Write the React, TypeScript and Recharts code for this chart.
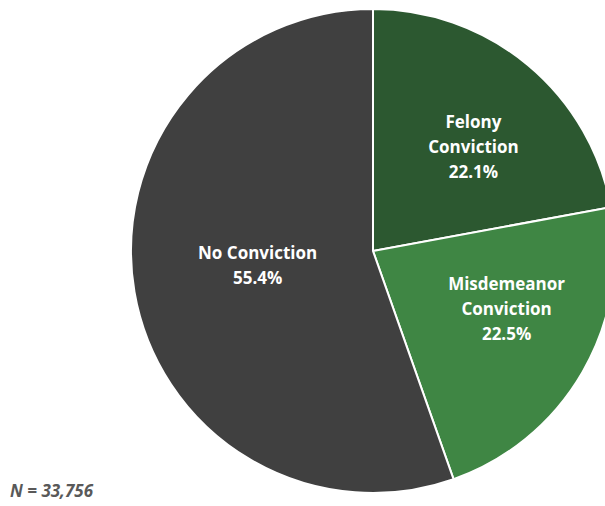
import { PieChart, Pie, Cell } from "recharts";

const categories = ["Felony\nConviction", "Misdemeanor\nConviction", "No Conviction"];
const shares = [22.1, 22.5, 55.4];
const colors = ["#2C5830", "#3F8644", "#404040"];
const sampleNote = "N = 33,756";

const data = categories.map((name, i) => ({ name, value: shares[i] }));

// Excel's best-fit places each label a bit differently; nudge per slice
const labelRadius = [0.6, 0.6, 0.48];
const labelAngleShift = [-4, 7, -3];

const RADIAN = Math.PI / 180;
const FONT = "'Open Sans', Lato, sans-serif";

function renderLabel(props: any) {
  const { cx, cy, midAngle, outerRadius, index } = props;
  const angle = (midAngle + labelAngleShift[index]) * RADIAN;
  const r = outerRadius * labelRadius[index];
  const x = cx + r * Math.cos(angle);
  const y = cy - r * Math.sin(angle);
  const lines = [...categories[index].split("\n"), `${shares[index].toFixed(1)}%`];
  const startY = y - ((lines.length - 1) * 25) / 2;
  return (
    <text
      x={x}
      y={startY}
      fill="#ffffff"
      textAnchor="middle"
      dominantBaseline="central"
      style={{ fontFamily: FONT, fontWeight: 700, fontSize: 17 }}
    >
      {lines.map((line, i) => (
        <tspan key={i} x={x} dy={i === 0 ? 0 : 25}>
          {line}
        </tspan>
      ))}
    </text>
  );
}

export default function App() {
  return (
    <div style={{ position: "absolute", left: 0, top: 0, width: 605, height: 506, background: "#fff" }}>
      <PieChart width={605} height={506} margin={{ top: 0, right: 0, bottom: 0, left: 0 }}>
        <Pie
          data={data}
          dataKey="value"
          cx={373}
          cy={251}
          outerRadius={242}
          startAngle={90}
          endAngle={-270}
          stroke="#ffffff"
          strokeWidth={2}
          labelLine={false}
          label={renderLabel}
          isAnimationActive={false}
        >
          {data.map((d, i) => (
            <Cell key={d.name} fill={colors[i]} />
          ))}
        </Pie>
      </PieChart>
      <div
        style={{
          position: "absolute",
          left: 10,
          top: 479,
          fontFamily: FONT,
          fontWeight: 700,
          fontStyle: "italic",
          fontSize: 17,
          color: "#595959",
        }}
      >
        {sampleNote}
      </div>
    </div>
  );
}
